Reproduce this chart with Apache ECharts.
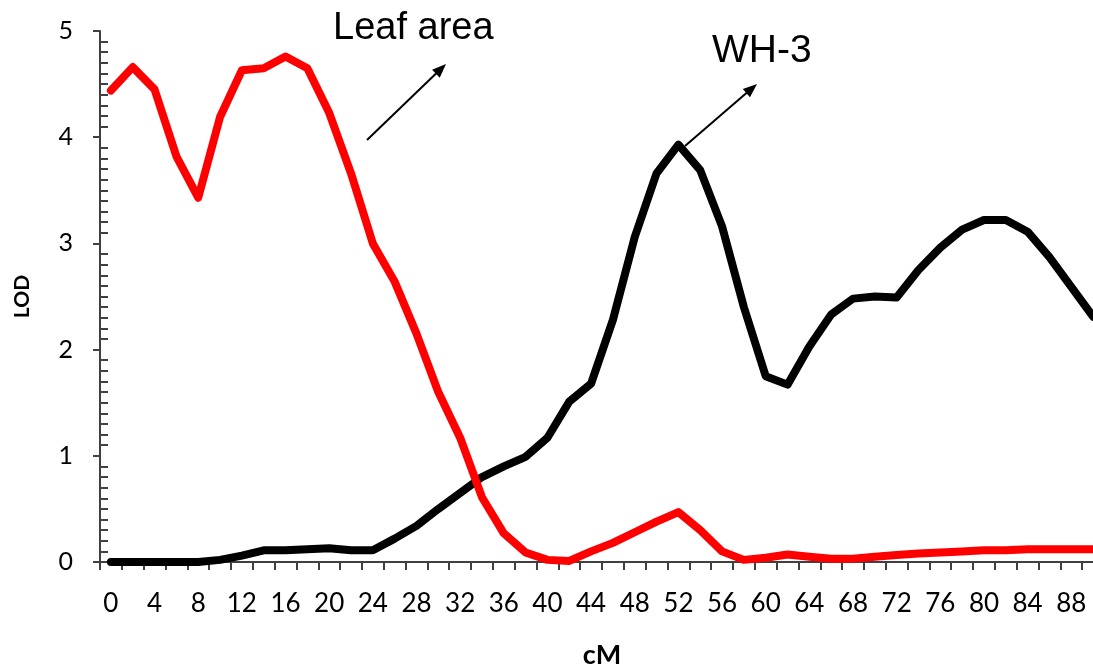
<!DOCTYPE html>
<html>
<head>
<meta charset="utf-8">
<script src="https://cdn.jsdelivr.net/npm/echarts@6/dist/echarts.min.js"></script>
<style>
html,body{margin:0;padding:0;background:#fff;}
#chart{width:1093px;height:668px;}
</style>
</head>
<body>
<div id="chart"></div>
<script>
// x categories (cM)
var cM = ['0','2','4','6','8','10','12','14','16','18','20','22','24','26','28','30','32','34','36','38','40','42','44','46','48','50','52','54','56','58','60','62','64','66','68','70','72','74','76','78','80','82','84','86','88','90'];
// LOD values
var leafArea = [4.44,4.66,4.45,3.82,3.43,4.19,4.63,4.65,4.76,4.65,4.23,3.66,3.00,2.64,2.15,1.60,1.17,0.61,0.27,0.09,0.02,0.01,0.10,0.18,0.28,0.38,0.47,0.30,0.10,0.02,0.04,0.07,0.05,0.03,0.03,0.05,0.065,0.08,0.09,0.10,0.11,0.11,0.12,0.12,0.12,0.12];
var wh3 = [0,0,0,0,0,0.02,0.06,0.11,0.11,0.12,0.13,0.11,0.11,0.22,0.34,0.50,0.65,0.80,0.90,0.99,1.17,1.51,1.68,2.28,3.06,3.66,3.93,3.69,3.16,2.40,1.75,1.67,2.03,2.33,2.48,2.50,2.49,2.75,2.96,3.13,3.22,3.22,3.11,2.87,2.59,2.31];
var yTicks = [0,1,2,3,4,5];

var axisColor = '#404040';
var labelFont = 'Lato';

function arrow(x1, y1, x2, y2) {
  var dx = x2 - x1, dy = y2 - y1, len = Math.sqrt(dx*dx + dy*dy);
  var ux = dx/len, uy = dy/len, nx = -uy, ny = ux;
  var L = 14, W = 5.5;
  var bx = x2 - ux*L, by = y2 - uy*L;
  return [
    {type:'line', shape:{x1:x1, y1:y1, x2:bx + ux*2, y2:by + uy*2}, style:{stroke:'#000', lineWidth:2}},
    {type:'polygon', shape:{points:[[x2,y2],[bx + nx*W, by + ny*W],[bx - nx*W, by - ny*W]]}, style:{fill:'#000'}}
  ];
}

var chart = echarts.init(document.getElementById('chart'), null, {renderer:'canvas'});
var option = {
  animation: false,
  backgroundColor: '#fff',
  grid: {left: 100, width: 1004, top: 31, bottom: 106, containLabel: false, outerBoundsMode: 'none'},
  xAxis: {
    type: 'category',
    data: cM,
    boundaryGap: true,
    name: 'cM',
    nameLocation: 'middle',
    nameGap: 80,
    nameTextStyle: {fontFamily: labelFont, fontWeight: 'bold', fontSize: 27, color: '#000'},
    axisLine: {lineStyle: {color: axisColor, width: 2}},
    axisTick: {show: true, interval: 0, length: 8, lineStyle: {color: axisColor, width: 2}},
    axisLabel: {interval: 1, margin: 29, fontFamily: labelFont, fontSize: 26, color: '#000'},
    splitLine: {show: false}
  },
  yAxis: [{
    type: 'value',
    min: yTicks[0], max: yTicks[yTicks.length-1], interval: 1,
    name: 'LOD',
    nameLocation: 'middle',
    nameRotate: 90,
    nameGap: 67,
    nameTextStyle: {fontFamily: labelFont, fontWeight: 'bold', fontSize: 21, color: '#000'},
    axisLine: {show: true, lineStyle: {color: axisColor, width: 2}},
    axisTick: {show: true, length: 7, lineStyle: {color: axisColor, width: 2}},
    axisLabel: {margin: 27, fontFamily: labelFont, fontSize: 25, color: '#000'},
    splitLine: {show: false}
  }, {
    type: 'value',
    position: 'left',
    min: yTicks[0], max: yTicks[yTicks.length-1], interval: 1,
    axisLine: {show: false},
    axisTick: {show: false, inside: true},
    axisLabel: {show: false},
    minorTick: {show: true, splitNumber: 10, length: 8, lineStyle: {color: axisColor, width: 2}},
    splitLine: {show: false}
  }],
  series: [{
    name: 'WH-3', type: 'line', data: wh3, symbol: 'none', smooth: false,
    lineStyle: {color: '#000', width: 8, join: 'round', cap: 'round'}, z: 2
  }, {
    name: 'Leaf area', type: 'line', data: leafArea, symbol: 'none', smooth: false,
    lineStyle: {color: '#ff0000', width: 8, join: 'round', cap: 'round'}, z: 3
  }],
  graphic: [
    {type:'text', x: 333, y: 29, style:{text:'Leaf area', font:'38px "Liberation Sans"', fill:'#000', verticalAlign:'middle'}},
    {type:'text', x: 712, y: 51, style:{text:'WH-3', font:'39px "Liberation Sans"', fill:'#000', verticalAlign:'middle'}}
  ].concat(arrow(367, 140, 446, 64)).concat(arrow(685, 146, 757, 84))
};
chart.setOption(option);
</script>
</body>
</html>
